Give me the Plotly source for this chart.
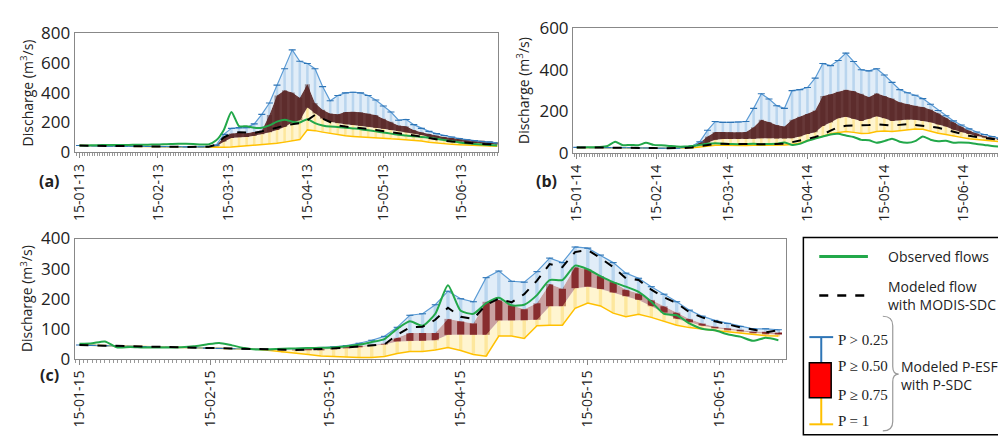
import plotly.graph_objects as go
import pandas as pd

# ---------------- data (values every 3 days from 15 Jan) ----------------
dates_a = pd.date_range('2013-01-15', periods=56, freq='3D')
dates_b = pd.date_range('2014-01-15', periods=56, freq='3D')
dates_c = pd.date_range('2015-01-15', periods=56, freq='3D')

obs_a = [45,46,47,48,48,49,49,50,50,51, 52,53,55,57,57,55,52,53,80,150,
         270,175,175,165,165,180,205,218,205,200, 222,195,180,172,170,165,160,155,148,140,
         132,125,118,112,108,103,97,90,82,74, 66,60,56,52,48,45]
mod_a = [45,44,43,42,41,41,40,40,39,39, 38,38,37,37,36,36,36,37,50,100,
         125,135,132,130,140,150,165,180,188,195, 215,250,225,200,180,172,168,162,157,150,
         143,137,130,122,115,105,95,85,78,72, 67,62,58,55,53,50]
pmin_a = [45,44,43,42,41,40,40,39,39,38, 38,37,37,36,36,35,35,34,33,34,
          36,40,42,45,50,55,60,68,75,85, 150,145,135,125,115,110,106,102,98,95,
          92,90,88,85,80,75,68,62,57,53, 50,48,46,44,42,40]
q75_a = [45,44,43,42,41,41,40,40,39,39, 38,38,37,37,36,36,36,37,40,70,
         95,100,102,110,120,135,150,170,200,215, 300,260,225,205,195,188,182,177,172,165,
         157,150,142,135,128,115,103,93,85,78, 72,67,62,58,55,52]
q50_a = [45,44,43,42,41,41,40,40,39,39, 38,38,37,37,36,36,36,37,45,100,
         125,130,128,135,146,250,380,415,400,365, 455,330,285,260,255,270,272,268,260,250,
         225,205,180,175,150,135,122,112,102,95, 90,85,80,77,73,68]
pmax_a = [45,44,43,42,41,41,40,40,39,39, 38,38,37,37,36,36,36,37,48,120,
          160,165,165,190,254,330,450,560,686,610, 595,560,440,345,380,398,402,398,380,350,
          310,270,215,220,185,160,140,125,112,102, 92,84,78,72,68,62]

obs_b = [28,28,29,30,35,55,38,40,38,50, 40,38,35,32,32,35,40,45,48,45,
         44,43,44,45,43,44,45,52,40,45, 60,70,80,90,93,85,78,64,62,50,
         58,70,55,50,58,80,65,58,60,50, 52,50,44,40,35,32]
mod_b = [28,28,27,27,27,26,26,26,25,25, 25,24,24,24,25,28,33,38,45,45,
         44,43,43,43,43,44,44,46,53,60, 68,78,90,108,125,132,132,132,135,139,
         134,132,136,139,135,132,128,122,112,101, 92,84,78,73,68,64]
pmin_b = [28,28,27,27,27,26,26,26,25,25, 25,24,24,24,25,26,30,34,38,38,
          37,37,37,38,38,38,38,40,42,48, 60,70,82,94,100,104,100,95,96,104,
          106,104,108,112,116,115,105,96,90,82, 76,70,66,62,58,55]
q75_b = [28,28,27,27,27,26,26,26,25,25, 25,24,24,24,25,30,38,50,65,68,
         68,68,68,70,72,72,70,70,72,80, 92,100,130,147,168,175,165,155,165,177,
         168,155,158,162,160,155,148,138,128,112, 101,92,83,76,70,64]
q50_b = [28,28,27,27,27,26,26,26,25,25, 25,24,24,24,25,32,50,80,102,102,
         100,100,102,125,160,150,135,128,160,175, 188,205,275,283,295,305,298,285,270,288,
         275,262,245,235,228,222,210,192,170,147, 128,109,95,83,74,68]
pmax_b = [28,28,27,27,27,26,26,26,25,25, 25,24,24,24,28,35,55,110,152,148,
          148,150,152,215,285,260,228,215,300,305, 315,360,430,420,445,480,440,400,395,405,
          375,340,305,290,278,262,235,205,180,155, 135,117,102,90,80,72]

obs_c = [50,52,58,38,40,38,38,38,39,42, 48,53,45,36,31,32,34,35,36,37,
         38,42,47,56,66,100,125,110,150,245, 160,150,185,203,178,180,212,262,262,310,
         298,275,255,240,223,190,150,145,118,100, 95,82,74,60,70,62]
mod_c = [46,45,44,43,42,41,40,39,38,37, 36,35,34,33,32,31,31,30,31,32,
         35,38,42,45,48,80,105,107,130,170, 140,133,180,200,188,215,260,315,305,355,
         362,335,305,268,262,230,205,185,155,138, 125,115,105,98,88,95]
pmin_c = [46,45,44,43,42,41,40,39,38,37, 36,35,34,33,32,28,24,21,15,10,
          8,6,5,5,8,18,25,25,30,38, 28,15,9,76,76,68,110,112,112,168,
          186,176,152,140,148,138,125,112,104,98, 94,90,85,81,77,76]
q75_c = [46,45,44,43,42,41,40,39,38,37, 36,35,34,33,32,31,30,30,30,31,
         33,36,40,45,48,58,60,60,62,80, 81,80,80,128,128,128,130,175,175,235,
         240,232,220,208,196,175,154,133,122,110, 103,97,92,87,84,81]
q50_c = [46,45,44,43,42,41,40,39,38,37, 36,35,34,33,32,31,31,31,32,33,
         36,39,43,47,50,70,86,86,86,133, 125,118,190,196,178,165,185,249,233,305,
         298,275,255,230,217,196,175,154,133,118, 107,102,96,90,90,86]
pmax_c = [46,45,44,43,42,41,40,39,38,37, 36,35,34,33,32,31,33,34,36,38,
          40,44,52,62,75,105,145,150,180,225, 200,190,270,292,258,255,290,335,320,372,
          368,345,320,285,268,240,215,190,162,142, 128,118,108,100,100,97]

months = ['01', '02', '03', '04', '05', '06']

# ---------------- figure ----------------
W, H = 998, 441
DAY = 86400000
FONT = 'Open Sans'
fig = go.Figure()


def diff(hi, lo):
    return [max(h - l, 0) for h, l in zip(hi, lo)]


def add_panel(x, obs, mod, pmin, q75, q50, pmax, xa, ya, box_fill, box_bar, whisk_w, box_w):
    ax = dict(xaxis=xa, yaxis=ya, hoverinfo='skip', showlegend=False)
    fig.add_trace(go.Scatter(x=x, y=pmin, mode='lines', line=dict(width=0), **ax))
    fig.add_trace(go.Scatter(x=x, y=q75, mode='lines', line=dict(width=0), fill='tonexty',
                             fillcolor='rgba(255,236,170,0.55)', **ax))
    fig.add_trace(go.Scatter(x=x, y=q50, mode='lines', line=dict(width=0), fill='tonexty',
                             fillcolor=box_fill, **ax))
    fig.add_trace(go.Scatter(x=x, y=pmax, mode='lines', line=dict(width=0), fill='tonexty',
                             fillcolor='rgba(205,225,243,0.6)', **ax))
    fig.add_trace(go.Bar(x=x, y=diff(q75, pmin), base=pmin, width=whisk_w * DAY,
                         marker=dict(color='#fbe08e', line=dict(width=0)), **ax))
    fig.add_trace(go.Bar(x=x, y=diff(pmax, q50), base=q50, width=whisk_w * DAY,
                         marker=dict(color='#9cc2e5', line=dict(width=0)), **ax))
    fig.add_trace(go.Bar(x=x, y=diff(q50, q75), base=q75, width=box_w * DAY,
                         marker=dict(color=box_bar, line=dict(width=0)), **ax))
    fig.add_trace(go.Scatter(x=x, y=pmin, mode='lines', line=dict(color='#ffc000', width=1.5), **ax))
    fig.add_trace(go.Scatter(x=x, y=pmax, mode='lines+markers',
                             line=dict(color='#5b9bd5', width=1.2),
                             marker=dict(symbol='line-ew', size=5,
                                         line=dict(color='#2e75b6', width=1.1)), **ax))
    fig.add_trace(go.Scatter(x=x, y=obs, mode='lines', line=dict(color='#22a84a', width=2, shape='spline',
                                                                 smoothing=0.6), **ax))
    fig.add_trace(go.Scatter(x=x, y=mod, mode='lines', line=dict(color='black', width=2, dash='dash'), **ax))


add_panel(dates_a, obs_a, mod_a, pmin_a, q75_a, q50_a, pmax_a, 'x', 'y',
          'rgba(95,45,45,0.95)', '#3d1414', 1.0, 2.0)
add_panel(dates_b, obs_b, mod_b, pmin_b, q75_b, q50_b, pmax_b, 'x2', 'y2',
          'rgba(95,45,45,0.95)', '#3d1414', 1.0, 2.0)
add_panel(dates_c, obs_c, mod_c, pmin_c, q75_c, q50_c, pmax_c, 'x3', 'y3',
          'rgba(150,70,70,0.5)', '#7a1518', 0.8, 1.7)


def px(x):
    return x / W


def py(y):
    return 1 - y / H


def xaxis(year, dom, rng, anchor):
    yy = str(year)[2:]
    tv = [f'{year}-{m}-15' for m in months]
    tt = [f'15-{m}-{yy}' for m in months]
    return dict(type='date', domain=dom, range=rng, anchor=anchor,
                tickmode='array', tickvals=tv, ticktext=tt, tickangle=-90,
                ticks='outside', ticklen=5, tickcolor='#888',
                minor=dict(dtick=DAY, tick0=f'{year}-01-15', ticks='outside', ticklen=3, tickcolor='#999'),
                showline=True, linecolor='#888', linewidth=1, mirror=True, showgrid=False, zeroline=False,
                tickfont=dict(family=FONT, size=14, color='#222'))


def yaxis(dom, top, dt, anchor, mirror=True):
    return dict(domain=dom, range=[0, top], dtick=dt, anchor=anchor,
                showline=True, linecolor='#888', linewidth=1, mirror=mirror,
                showgrid=False, zeroline=False, ticks='',
                tickfont=dict(family=FONT, size=17, color='#222'))


fig.update_layout(
    width=W, height=H, margin=dict(l=0, r=0, t=0, b=0),
    paper_bgcolor='white', plot_bgcolor='white', barmode='overlay', showlegend=False,
    xaxis=xaxis(2013, [px(68), px(494)], ['2013-01-13 01:00', '2013-06-29 02:00'], 'y'),
    yaxis=yaxis([py(148), py(22)], 800, 200, 'x'),
    xaxis2=xaxis(2014, [px(570), 1.0], ['2014-01-13 13:00', '2014-06-28 08:00'], 'y2'),
    yaxis2=yaxis([py(149), py(17)], 600, 200, 'x2'),
    xaxis3=xaxis(2015, [px(68), px(785)], ['2015-01-13 20:00', '2015-06-30 22:00'], 'y3'),
    yaxis3=yaxis([py(366), py(239)], 400, 100, 'x3'),
)
# the right border of panel (b) is cut by the image edge
fig.layout.xaxis2.mirror = True
fig.layout.yaxis2.mirror = False

ann = []


def text(x, y, s, size=14, family=FONT, bold=False, angle=0, anchor='left', color='#222', align='left'):
    if bold:
        s = f'<b>{s}</b>'
    ann.append(dict(x=px(x), y=py(y), xref='paper', yref='paper', text=s, showarrow=False,
                    xanchor=anchor, yanchor='middle', textangle=angle, align=align,
                    font=dict(family=family, size=size, color=color)))


ytitle = 'Discharge (m<sup>3</sup>/s)'
text(20, 85, ytitle, size=14, angle=-90, anchor='center')
text(519, 83, ytitle, size=14, angle=-90, anchor='center')
text(20, 302, ytitle, size=14, angle=-90, anchor='center')
text(43, 178, '(a)', size=16, bold=True, anchor='center')
text(543, 178, '(b)', size=16, bold=True, anchor='center')
text(43, 383, '(c)', size=16, bold=True, anchor='center')

# legend texts
text(885, 258, 'Observed flows')
text(885, 299, 'Modeled flow<br>with MODIS-SDC')
text(898, 384, 'Modeled P-ESF<br>with P-SDC')
SERIF = 'Liberation Serif'
text(835, 346, 'P &gt; 0.25', size=15, family=SERIF)
text(835, 374, 'P ≥ 0.50', size=15, family=SERIF)
text(835, 404, 'P ≥ 0.75', size=15, family=SERIF)
text(835, 432, 'P = 1', size=15, family=SERIF)
fig.update_layout(annotations=ann)

shapes = []


def line(x0, y0, x1, y1, color, width, dash='solid'):
    shapes.append(dict(type='line', xref='paper', yref='paper', x0=px(x0), y0=py(y0), x1=px(x1), y1=py(y1),
                       line=dict(color=color, width=width, dash=dash)))


shapes.append(dict(type='rect', xref='paper', yref='paper', x0=px(802), y0=py(446), x1=px(1003), y1=py(238),
                   line=dict(color='black', width=1.5), fillcolor='rgba(0,0,0,0)'))
line(818, 258, 867, 258, '#22a84a', 3)
line(818, 299, 868, 299, 'black', 2.5, 'dash')
line(820, 343, 820, 370, '#2e75b6', 2)
line(808, 343, 832, 343, '#2e75b6', 2)
line(820, 407, 820, 435, '#ffc000', 2)
line(808, 435, 832, 435, '#ffc000', 2)
shapes.append(dict(type='rect', xref='paper', yref='paper', x0=px(808), y0=py(407), x1=px(830), y1=py(370),
                   line=dict(color='black', width=1.5), fillcolor='#ff0000'))


def P(x, y):
    return f'{px(x):.5f},{py(y):.5f}'


brace = (f'M {P(882, 321)} Q {P(892, 321)} {P(892, 331)} L {P(892, 374)} '
         f'Q {P(892, 382)} {P(898, 382)} Q {P(892, 382)} {P(892, 390)} '
         f'L {P(892, 432)} Q {P(892, 442)} {P(882, 442)}')
shapes.append(dict(type='path', xref='paper', yref='paper', path=brace,
                   line=dict(color='#999', width=1.2)))
fig.update_layout(shapes=shapes)

fig.write_html('out.html')
